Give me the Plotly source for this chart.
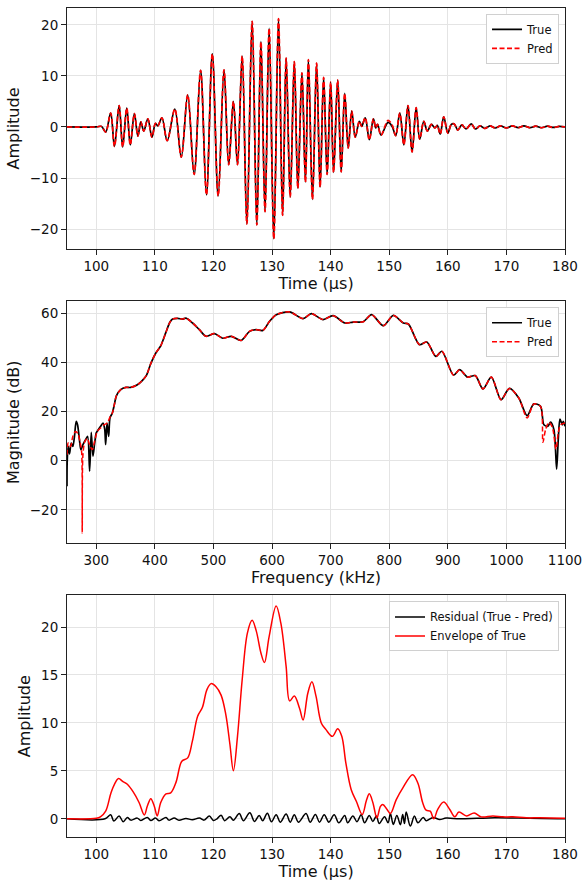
import plotly.graph_objects as go

# ---------------- Panel 1: waveform (extrema) ----------------
wave_time = [95, 100, 100.9, 101.6, 102.45, 103.1, 103.9, 104.5, 105.2, 105.8, 106.5, 107.1,
             107.6, 108.1, 108.8, 109.5, 110.1, 110.5, 111.2, 112.1, 113.4, 114.5, 115.6, 116.7,
             117.8, 118.8, 119.8, 120.8, 121.8, 122.6, 123.4, 124.1, 124.9, 125.7, 126.6, 127.4,
             128.1, 128.8, 129.5, 130.3, 131.1, 131.8, 132.4, 133.1, 133.8, 134.4, 135.1, 135.7,
             136.2, 136.9, 137.6, 138.2, 138.8, 139.4, 140.0, 140.5, 141.2, 141.8, 142.4, 143.0,
             143.6, 144.2, 144.9, 145.3, 145.9, 146.6, 147.3, 147.7, 148.0, 148.6, 149.8, 150.5,
             151.1, 151.8, 152.5, 153.2, 153.9, 154.6, 155.2, 155.9, 156.5, 157.2, 157.8, 158.2,
             158.7, 159.3, 160.0, 160.6, 161.1, 161.7, 162.4, 163.1, 164.0, 164.7, 165.5, 166.3,
             167.2, 168.1, 169.0, 170.0, 171.0, 172.0, 173.0, 174.0, 175.0, 176.0, 177.0, 178.0,
             179.0, 180.0]
true_amp = [0, 0, 0.1, -1.0, 2.7, -3.8, 4.2, -3.9, 3.7, -3.5, 2.6, -1.8,
            1.0, -0.8, 1.6, -2.0, 0.7, 0.2, 1.8, -2.7, 3.5, -5.9, 6.3, -9.3,
            11.1, -13.3, 14.3, -13.5, 11.2, -7.4, 5.0, -7.4, 13.9, -19.0, 20.7, -19.2,
            16.7, -16.6, 19.3, -21.9, 21.2, -17.3, 13.5, -13.7, 12.8, -12.0, 10.6, -10.8,
            13.2, -14.2, 12.5, -11.8, 9.7, -9.3, 8.8, -8.9, 9.2, -8.8, 6.6, -4.1,
            3.1, -2.0, 1.1, 0.1, 1.8, -2.5, 1.6, -0.2, 0.5, -1.6, 0.9, 0.1,
            -1.7, 2.7, -3.5, 4.2, -4.9, 3.8, -2.4, 1.1, -0.8, 0.5, -0.2, 0.3,
            -1.4, 2.0, -1.2, 0.5, 0.6, -0.6, 0.4, -0.4, 0.6, -0.4, 0.2, -0.3,
            0.2, -0.2, 0.2, -0.2, 0.2, -0.15, 0.2, -0.15, 0.15, -0.15, 0.15, -0.1,
            0.1, 0.0]
pred_amp = [0, 0, 0.1, -1.0, 2.7, -3.8, 4.2, -3.9, 3.7, -3.5, 2.6, -1.8,
            1.0, -0.8, 1.6, -2.0, 0.7, 0.2, 1.8, -2.7, 3.5, -5.9, 6.3, -9.3,
            11.1, -13.3, 14.3, -13.5, 11.2, -7.4, 5.0, -7.4, 13.9, -19.0, 20.7, -19.2,
            16.7, -16.6, 19.3, -21.9, 21.2, -17.3, 13.5, -13.7, 12.8, -12.0, 10.6, -10.8,
            13.2, -14.2, 12.5, -11.8, 9.7, -9.3, 8.8, -8.9, 9.2, -8.8, 6.6, -4.1,
            3.1, -2.0, 1.1, 0.1, 1.8, -2.5, 1.6, -0.2, 0.5, -1.6, 1.3, 0.4,
            -1.7, 2.7, -3.5, 4.2, -4.9, 3.8, -2.4, 1.1, -0.8, 0.5, -0.2, 0.3,
            -1.4, 2.0, -1.2, 0.5, 0.6, -0.6, 0.4, -0.4, 0.6, -0.4, 0.2, -0.3,
            0.2, -0.2, 0.2, -0.2, 0.2, -0.15, 0.2, -0.15, 0.15, -0.15, 0.15, -0.1,
            0.1, 0.0]

# ---------------- Panel 2: spectrum ----------------
freq_true = [250, 250.3, 252, 254.3, 257.2, 260, 262.9, 265.7, 268, 271.5, 273.7, 277.2,
             281.7, 285.2, 288.6, 291.4, 294.3, 297.1, 300, 303.4, 307.4, 311.4, 314.3, 316,
             318.3, 321.1, 323.4, 327.4, 330.8, 334.3, 341.7, 350.2, 358.8, 370.2, 378.8, 385.6,
             393, 401.6, 410.2, 418.8, 425.6, 430.2, 438.7, 447.3, 453, 464.4, 475.9, 487.3,
             501.6, 515.8, 530.1, 547.2, 561.5, 572.9, 584.3, 595.8, 607.2, 630, 652.9, 667.1,
             687.1, 704.2, 724.2, 738.5, 755.6, 769.9, 789.9, 807, 824.1, 832.7, 851.6, 864.1,
             879.5, 889.8, 909.8, 920.1, 933.8, 946.9, 960, 974.3, 990.9, 1005.1, 1021.1, 1035.4,
             1046.8, 1058.3, 1064, 1070.8, 1075.4, 1081.1, 1085.7, 1088.5, 1091.4, 1095.4, 1097.1, 1100]
mag_true = [-10.4, -0.9, 5.8, 2.8, 7.2, 5.8, 10.2, 16.0, 14.6, 7.9, 4.5, 6.5,
            8.5, 9.9, -4.3, 11.5, 1.8, 6.9, 11.3, 12.6, 14.0, 15.3, 12.9, 6.5,
            15.3, 9.9, 17.4, 19.4, 22.8, 26.4, 28.9, 29.8, 29.8, 30.9, 32.7, 34.7,
            39.5, 43.8, 46.8, 52.2, 56.3, 57.6, 57.9, 57.6, 58.0, 56.0, 53.3, 50.6,
            51.7, 49.8, 50.6, 48.9, 52.6, 53.3, 53.0, 56.7, 59.4, 60.5, 57.8, 59.8,
            57.4, 59.0, 56.0, 56.4, 56.5, 59.4, 54.9, 59.1, 56.0, 55.6, 47.2, 48.3,
            42.4, 44.5, 34.8, 37.0, 34.0, 34.6, 29.2, 34.0, 24.8, 29.4, 25.5, 18.3,
            23.1, 22.1, 14.6, 14.0, 15.7, 12.6, -3.4, 8.5, 16.9, 14.6, 16.0, 14.0]
freq_pred = [250, 252, 256, 260, 264.6, 268.6, 272, 274.9, 276, 277.2, 280.6, 284.6,
             288.6, 293.1, 297.1, 301.7, 307.4, 313.1, 318.8, 322.8, 327.4, 330.8, 334.3, 341.7,
             350.2, 358.8, 370.2, 378.8, 385.6, 393, 401.6, 410.2, 418.8, 425.6, 430.2, 438.7,
             447.3, 453, 464.4, 475.9, 487.3, 501.6, 515.8, 530.1, 547.2, 561.5, 572.9, 584.3,
             595.8, 607.2, 630, 652.9, 667.1, 687.1, 704.2, 724.2, 738.5, 755.6, 769.9, 789.9,
             807, 824.1, 832.7, 851.6, 864.1, 879.5, 889.8, 909.8, 920.1, 933.8, 946.9, 960,
             974.3, 990.9, 1005.1, 1021.1, 1035.4, 1046.8, 1058.3, 1062.3, 1066.8, 1072.5, 1078.5, 1084.6,
             1088.5, 1092.5, 1100]
mag_pred = [2.4, 7.2, 5.8, 9.9, 11.9, 11.0, 7.9, 3.8, -29.4, 2.4, 7.9, 9.0,
            6.5, 4.5, 7.9, 11.9, 13.3, 14.6, 15.3, 17.4, 19.4, 22.8, 26.4, 28.9,
            29.8, 29.8, 30.9, 32.7, 34.7, 39.5, 43.8, 46.8, 52.2, 56.3, 57.6, 57.9,
            57.6, 58.0, 56.0, 53.3, 50.6, 51.7, 49.8, 50.6, 48.9, 52.6, 53.3, 53.0,
            56.7, 59.4, 60.5, 57.8, 59.8, 57.4, 59.0, 56.0, 56.4, 56.5, 59.4, 54.9,
            59.1, 56.0, 55.6, 47.2, 48.3, 42.4, 44.5, 34.8, 37.0, 34.0, 34.6, 29.2,
            34.0, 24.8, 29.4, 25.5, 17.4, 23.1, 22.1, 7.5, 12.6, 15.6, 13.5, 4.7,
            11.3, 14.6, 15.3]

# ---------------- Panel 3: residual and envelope ----------------
resid_time = [95, 101.5, 102.45, 103.0, 103.9, 104.6, 105.3, 105.9, 107.0, 107.6, 108.7, 109.3,
              110.1, 110.7, 111.9, 112.4, 113.3, 114.1, 115.3, 116.4, 117.6, 118.4, 119.3, 120.0,
              120.6, 121.3, 121.9, 122.8, 123.4, 124.4, 125.1, 126.2, 127.0, 127.8, 128.4, 129.2,
              129.9, 130.7, 131.4, 132.4, 133.1, 133.8, 134.5, 135.8, 136.5, 137.4, 138.1, 138.9,
              139.7, 140.6, 141.4, 142.4, 142.9, 143.8, 144.5, 145.2, 145.8, 146.6, 147.2, 147.8,
              148.3, 149.2, 149.8, 150.2, 150.7, 151.3, 151.9, 152.3, 152.6, 152.9, 153.6, 154.3,
              154.9, 155.8, 156.3, 157.5, 158.6, 159.7, 162.0, 165.0, 168.0, 172.0, 176.0, 180.0]
resid_amp = [0, 0.0, 0.42, -0.24, 0.28, -0.31, 0.14, -0.14, 0.07, -0.17, 0.14, -0.17,
             0.07, -0.2, 0.14, -0.14, 0.07, -0.14, 0.03, -0.1, 0.07, -0.14, 0.28, -0.17,
             0.0, 0.38, -0.2, 0.2, -0.14, 0.55, -0.2, 0.62, -0.28, 0.35, -0.2, 0.59,
             -0.31, 0.42, -0.35, 0.49, -0.35, 0.42, -0.35, 0.55, -0.35, 0.45, -0.35, 0.42,
             -0.35, 0.42, -0.42, 0.35, -0.42, 0.28, -0.31, 0.42, -0.42, 0.35, -0.28, 0.28,
             -0.49, 0.21, -0.42, 0.55, -0.59, 0.35, -0.62, 0.45, -0.5, 0.7, -0.76, 0.28,
             -0.42, 0.14, -0.2, 0.14, -0.07, 0.07, 0.0, 0.05, 0.1, 0.08, 0.02, 0.0]
env_time = [95, 100.0, 100.7, 101.6, 102.5, 103.1, 103.8, 104.5, 105.3, 106.3, 107.3, 108.2,
            108.7, 109.3, 109.9, 110.4, 111.0, 111.9, 112.7, 113.6, 114.6, 115.6, 116.4, 117.3,
            118.1, 118.9, 119.6, 120.4, 121.3, 122.1, 122.8, 123.4, 124.1, 124.9, 125.8, 126.6,
            127.3, 128.1, 128.7, 129.5, 130.7, 131.5, 132.4, 133.0, 133.8, 134.7, 135.3, 136.1,
            136.8, 137.5, 138.4, 139.2, 140.3, 141.2, 141.9, 142.6, 143.5, 144.4, 145.4, 146.1,
            146.6, 147.2, 147.9, 148.5, 148.9, 149.6, 150.2, 151.2, 152.3, 154.0, 154.9, 155.7,
            156.3, 157.0, 157.6, 158.3, 159.3, 160.3, 161.2, 161.9, 163.2, 164.5, 165.7, 167.7,
            169.4, 171.1, 173.4, 175.7, 180.0]
env_amp = [0, 0.05, 0.2, 0.8, 2.7, 3.6, 4.2, 3.9, 3.6, 2.8, 1.7, 0.4,
           1.3, 2.1, 1.3, 0.3, 1.7, 2.6, 2.7, 3.8, 6.0, 6.35, 8.1, 10.7,
           11.6, 13.5, 14.1, 13.8, 12.9, 10.9, 7.8, 5.0, 8.6, 14.5, 19.4, 20.7,
           19.6, 17.3, 16.3, 19.0, 22.2, 20.4, 15.9, 12.3, 12.8, 11.5, 10.3, 13.1,
           14.3, 12.8, 10.0, 9.3, 8.6, 9.4, 8.6, 5.8, 3.06, 1.8, 0.45, 1.9,
           2.6, 1.7, 0.1, 1.3, 1.5, 1.0, 0.55, 2.0, 3.2, 4.6, 3.7, 1.7,
           0.9, 0.8, 0.0, 1.0, 1.74, 1.0, 0.2, 0.7, 0.3, 0.6, 0.2, 0.3,
           0.2, 0.2, 0.1, 0.1, 0.05]

FONT = "DejaVu Sans"
GRID = "#e4e4e4"
AXC = "#222222"

fig = go.Figure()
fig.add_trace(go.Scatter(x=wave_time, y=true_amp, name="True", mode="lines",
                         line=dict(color="black", width=1.7, shape="spline", smoothing=1.0),
                         xaxis="x", yaxis="y", legend="legend"))
fig.add_trace(go.Scatter(x=wave_time, y=pred_amp, name="Pred", mode="lines",
                         line=dict(color="#ff0000", width=1.7, dash="5px,2.5px", shape="spline", smoothing=1.0),
                         xaxis="x", yaxis="y", legend="legend"))
fig.add_trace(go.Scatter(x=freq_true, y=mag_true, name="True", mode="lines",
                         line=dict(color="black", width=1.7, shape="spline", smoothing=0.8),
                         xaxis="x2", yaxis="y2", legend="legend2"))
fig.add_trace(go.Scatter(x=freq_pred, y=mag_pred, name="Pred", mode="lines",
                         line=dict(color="#ff0000", width=1.5, dash="5px,2.5px", shape="spline", smoothing=0.8),
                         xaxis="x2", yaxis="y2", legend="legend2"))
fig.add_trace(go.Scatter(x=resid_time, y=resid_amp, name="Residual (True - Pred)", mode="lines",
                         line=dict(color="black", width=1.5, shape="spline", smoothing=1.0),
                         xaxis="x3", yaxis="y3", legend="legend3"))
fig.add_trace(go.Scatter(x=env_time, y=env_amp, name="Envelope of True", mode="lines",
                         line=dict(color="#ff0000", width=1.5, shape="spline", smoothing=1.0),
                         xaxis="x3", yaxis="y3", legend="legend3"))

def ax(**kw):
    d = dict(showline=True, linecolor=AXC, linewidth=1, mirror=True,
             ticks="outside", ticklen=5, tickcolor=AXC, tickwidth=1,
             showgrid=True, gridcolor=GRID, gridwidth=1, zeroline=False, automargin=False,
             tickfont=dict(family=FONT, size=13.5, color="#111111"))
    d.update(kw)
    return d

title_font = dict(family=FONT, size=16, color="#111111")

leg_common = dict(bgcolor="white", bordercolor="#d0d0d0", borderwidth=1,
                  font=dict(family=FONT, size=11.5, color="#111111"),
                  xanchor="right", yanchor="top", tracegroupgap=0)

fig.update_layout(
    width=584, height=883,
    margin=dict(l=67, r=19, t=8, b=46, autoexpand=False),
    paper_bgcolor="white", plot_bgcolor="white",
    font=dict(family=FONT, color="#111111"),
    xaxis=ax(domain=[0, 1], anchor="y", range=[95, 180], tickvals=[100, 110, 120, 130, 140, 150, 160, 170, 180],
             title=dict(text="Time (µs)", font=title_font, standoff=2)),
    yaxis=ax(domain=[0.7093, 1.0], anchor="x", range=[-23.9, 23.3], tickvals=[-20, -10, 0, 10, 20],
             title=dict(text="Amplitude", font=title_font, standoff=6)),
    xaxis2=ax(domain=[0, 1], anchor="y2", range=[250, 1100], tickvals=[300, 400, 500, 600, 700, 800, 900, 1000, 1100],
              title=dict(text="Frequency (kHz)", font=title_font, standoff=2)),
    yaxis2=ax(domain=[0.3546, 0.6461], anchor="x2", range=[-33.5, 64.8], tickvals=[-20, 0, 20, 40, 60],
              title=dict(text="Magnitude (dB)", font=title_font, standoff=6)),
    xaxis3=ax(domain=[0, 1], anchor="y3", range=[95, 180], tickvals=[100, 110, 120, 130, 140, 150, 160, 170, 180],
              title=dict(text="Time (µs)", font=title_font, standoff=2)),
    yaxis3=ax(domain=[0.0, 0.2914], anchor="x3", range=[-1.9, 23.3], tickvals=[0, 5, 10, 15, 20],
              title=dict(text="Amplitude", font=title_font, standoff=6)),
    legend=dict(x=0.988, y=0.993, **leg_common),
    legend2=dict(x=0.988, y=0.639, **leg_common),
    legend3=dict(x=0.988, y=0.2842, **leg_common),
)

fig.write_html("out.html", config={"displayModeBar": False},
               post_script="document.body.style.margin='0';")
